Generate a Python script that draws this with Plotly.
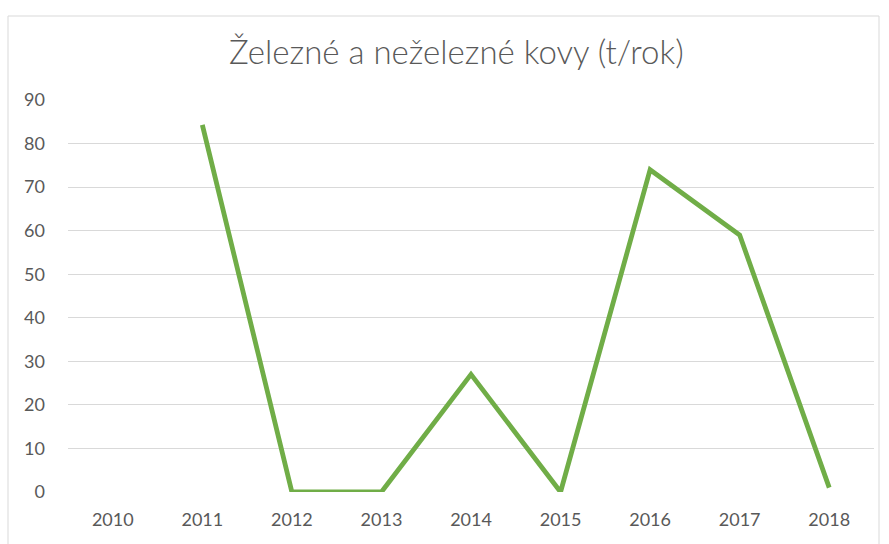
import plotly.graph_objects as go

years = ["2010", "2011", "2012", "2013", "2014", "2015", "2016", "2017", "2018"]
values = [None, 84.3, 0, 0, 27, 0, 74, 59, 1]
y_ticks = [0, 10, 20, 30, 40, 50, 60, 70, 80, 90]
title_text = "Železné a neželezné kovy (t/rok)"

W, H = 889, 544
L, R, T, B = 68, 15, 100, 52
pw, ph = W - L - R, H - T - B

fig = go.Figure()
fig.add_trace(go.Scatter(
    x=years, y=values, mode="lines",
    line=dict(color="#70AD47", width=4.8),
    connectgaps=False, hoverinfo="skip",
))

def px_x(p):
    return (p - L) / pw

def px_y(p):
    return (H - B - p) / ph

fig.add_shape(type="rect", xref="paper", yref="paper",
              x0=px_x(8), x1=px_x(879), y0=px_y(560), y1=px_y(16),
              line=dict(color="#D9D9D9", width=1), layer="below")

fig.add_annotation(text=title_text, xref="paper", yref="paper",
                   x=px_x(456), y=px_y(51), showarrow=False,
                   xanchor="center", yanchor="middle",
                   font=dict(family="Lato", size=33, color="#595959", weight=300))

fig.update_layout(
    width=W, height=H,
    margin=dict(l=L, r=R, t=T, b=B, pad=0),
    plot_bgcolor="white", paper_bgcolor="white",
    showlegend=False,
    font=dict(family="Lato", size=18, color="#595959"),
)
fig.update_xaxes(type="category", range=[-0.5, 8.5], showgrid=False,
                 showline=False, ticks="", ticklabelstandoff=15,
                 tickfont=dict(size=18, color="#595959"))
fig.update_yaxes(range=[0, 90], tickvals=y_ticks, showgrid=True,
                 gridcolor="#D9D9D9", gridwidth=1, zeroline=False,
                 showline=False, ticks="", ticklabelstandoff=22,
                 tickfont=dict(size=18, color="#595959"))

fig.write_html("out.html", config={"displayModeBar": False},
               post_script="document.body.style.margin='0';")
